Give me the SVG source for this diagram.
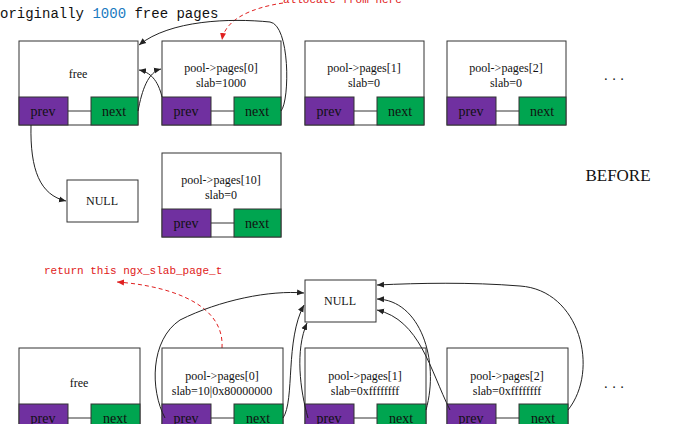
<svg xmlns="http://www.w3.org/2000/svg" width="679" height="424" viewBox="0 0 679 424">
<defs>
<marker id="a" markerWidth="8" markerHeight="8" refX="7" refY="4" orient="auto" markerUnits="userSpaceOnUse"><path d="M0,1 L7,4 L0,7 Z" fill="#222"/></marker>
<marker id="r" markerWidth="8" markerHeight="8" refX="7" refY="4" orient="auto" markerUnits="userSpaceOnUse"><path d="M0,1 L7,4 L0,7 Z" fill="#e02020"/></marker>
</defs>
<style>
.b{fill:#fff;stroke:#333;stroke-width:1}
.p{fill:#7030a0;stroke:#333}
.n{fill:#00a550;stroke:#333}
.t{font-family:"Liberation Serif",serif;font-size:12px;fill:#111;text-anchor:middle}
.w{font-family:"Liberation Serif",serif;font-size:14px;fill:#111;text-anchor:middle}
.c{fill:none;stroke:#222;stroke-width:1;marker-end:url(#a)}
.rd{fill:none;stroke:#e02020;stroke-dasharray:4,3;marker-end:url(#r)}
.rt{font-family:"Liberation Mono",monospace;font-size:11px;fill:#e02020}
</style>
<rect width="679" height="424" fill="#fff"/>
<text x="0" y="18" font-family="Liberation Mono,monospace" font-size="14" fill="#111">originally <tspan fill="#1a7ac0">1000</tspan> free pages</text>
<text x="283" y="3" class="rt">allocate from here</text>
<path class="rd" d="M283,3 C250,8 225,20 222,40"/>

<g id="free1"><rect class="b" x="19" y="41" width="119" height="84"/><text class="t" x="78" y="78">free</text><rect class="p" x="19" y="97" width="49" height="28"/><rect class="n" x="91" y="97" width="47" height="28"/><line x1="68" y1="111" x2="91" y2="111" stroke="#333"/><text class="w" x="43" y="116">prev</text><text class="w" x="114" y="116">next</text></g>
<g id="p0"><rect class="b" x="162" y="41" width="119" height="84"/><text class="t" x="221" y="72">pool-&gt;pages[0]</text><text class="t" x="221" y="87">slab=1000</text><rect class="p" x="162" y="97" width="49" height="28"/><rect class="n" x="234" y="97" width="47" height="28"/><line x1="211" y1="111" x2="234" y2="111" stroke="#333"/><text class="w" x="186" y="116">prev</text><text class="w" x="257" y="116">next</text></g>
<g id="p1"><rect class="b" x="305" y="41" width="119" height="84"/><text class="t" x="364" y="72">pool-&gt;pages[1]</text><text class="t" x="364" y="87">slab=0</text><rect class="p" x="305" y="97" width="49" height="28"/><rect class="n" x="377" y="97" width="47" height="28"/><line x1="354" y1="111" x2="377" y2="111" stroke="#333"/><text class="w" x="329" y="116">prev</text><text class="w" x="400" y="116">next</text></g>
<g id="p2"><rect class="b" x="447" y="41" width="119" height="84"/><text class="t" x="506" y="72">pool-&gt;pages[2]</text><text class="t" x="506" y="87">slab=0</text><rect class="p" x="447" y="97" width="49" height="28"/><rect class="n" x="519" y="97" width="47" height="28"/><line x1="496" y1="111" x2="519" y2="111" stroke="#333"/><text class="w" x="471" y="116">prev</text><text class="w" x="542" y="116">next</text></g>
<text x="614" y="84" class="w">· · ·</text>
<g id="null1"><rect class="b" x="67" y="180" width="71" height="42"/><text class="t" x="102" y="205">NULL</text></g>
<g id="p10"><rect class="b" x="162" y="153" width="119" height="84"/><text class="t" x="221" y="184">pool-&gt;pages[10]</text><text class="t" x="221" y="199">slab=0</text><rect class="p" x="162" y="209" width="49" height="28"/><rect class="n" x="234" y="209" width="47" height="28"/><line x1="211" y1="223" x2="234" y2="223" stroke="#333"/><text class="w" x="186" y="228">prev</text><text class="w" x="257" y="228">next</text></g>
<text x="618" y="181" font-family="Liberation Serif,serif" font-size="17" fill="#111" text-anchor="middle">BEFORE</text>

<text x="44" y="274" class="rt">return this ngx_slab_page_t</text>
<path class="rd" d="M222,348 C225,300 160,285 117,282"/>
<g id="null2"><rect class="b" x="305" y="280" width="71" height="42"/><text class="t" x="340" y="305">NULL</text></g>
<g id="free2"><rect class="b" x="19" y="348" width="121" height="84"/><text class="t" x="79" y="387">free</text><rect class="p" x="19" y="404" width="49" height="28"/><rect class="n" x="91" y="404" width="49" height="28"/><line x1="68" y1="418" x2="91" y2="418" stroke="#333"/><text class="w" x="43" y="423">prev</text><text class="w" x="115" y="423">next</text></g>
<g id="q0"><rect class="b" x="162" y="348" width="121" height="84"/><text class="t" x="222" y="380">pool-&gt;pages[0]</text><text class="t" x="222" y="395">slab=10|0x80000000</text><rect class="p" x="162" y="404" width="49" height="28"/><rect class="n" x="234" y="404" width="49" height="28"/><line x1="211" y1="418" x2="234" y2="418" stroke="#333"/><text class="w" x="186" y="423">prev</text><text class="w" x="258" y="423">next</text></g>
<g id="q1"><rect class="b" x="305" y="348" width="121" height="84"/><text class="t" x="365" y="380">pool-&gt;pages[1]</text><text class="t" x="365" y="395">slab=0xffffffff</text><rect class="p" x="305" y="404" width="49" height="28"/><rect class="n" x="377" y="404" width="49" height="28"/><line x1="354" y1="418" x2="377" y2="418" stroke="#333"/><text class="w" x="329" y="423">prev</text><text class="w" x="401" y="423">next</text></g>
<g id="q2"><rect class="b" x="447" y="348" width="121" height="84"/><text class="t" x="507" y="380">pool-&gt;pages[2]</text><text class="t" x="507" y="395">slab=0xffffffff</text><rect class="p" x="447" y="404" width="49" height="28"/><rect class="n" x="519" y="404" width="49" height="28"/><line x1="496" y1="418" x2="519" y2="418" stroke="#333"/><text class="w" x="471" y="423">prev</text><text class="w" x="543" y="423">next</text></g>
<text x="614" y="392" class="w">· · ·</text>

<g id="connectors">
<path class="c" d="M138,111 C142,90 148,72 161,69"/>
<path class="c" d="M162,97 C158,80 150,72 139,70"/>
<path class="c" d="M281,111 C290,100 290,25 270,22 C230,18 170,20 139,45"/>
<path class="c" d="M31,125 C30,170 40,195 66,201"/>
<path class="c" d="M165,418 C150,390 150,340 180,320 C220,300 270,290 304,293"/>
<path class="c" d="M283,418 C295,400 285,340 304,305"/>
<path class="c" d="M308,418 C300,390 295,350 307,323"/>
<path class="c" d="M426,410 C440,360 420,300 377,299"/>
<path class="c" d="M450,410 C430,370 420,320 377,310"/>
<path class="c" d="M568,410 C600,370 580,290 520,286 C470,282 420,283 377,285"/>
</g>
</svg>
